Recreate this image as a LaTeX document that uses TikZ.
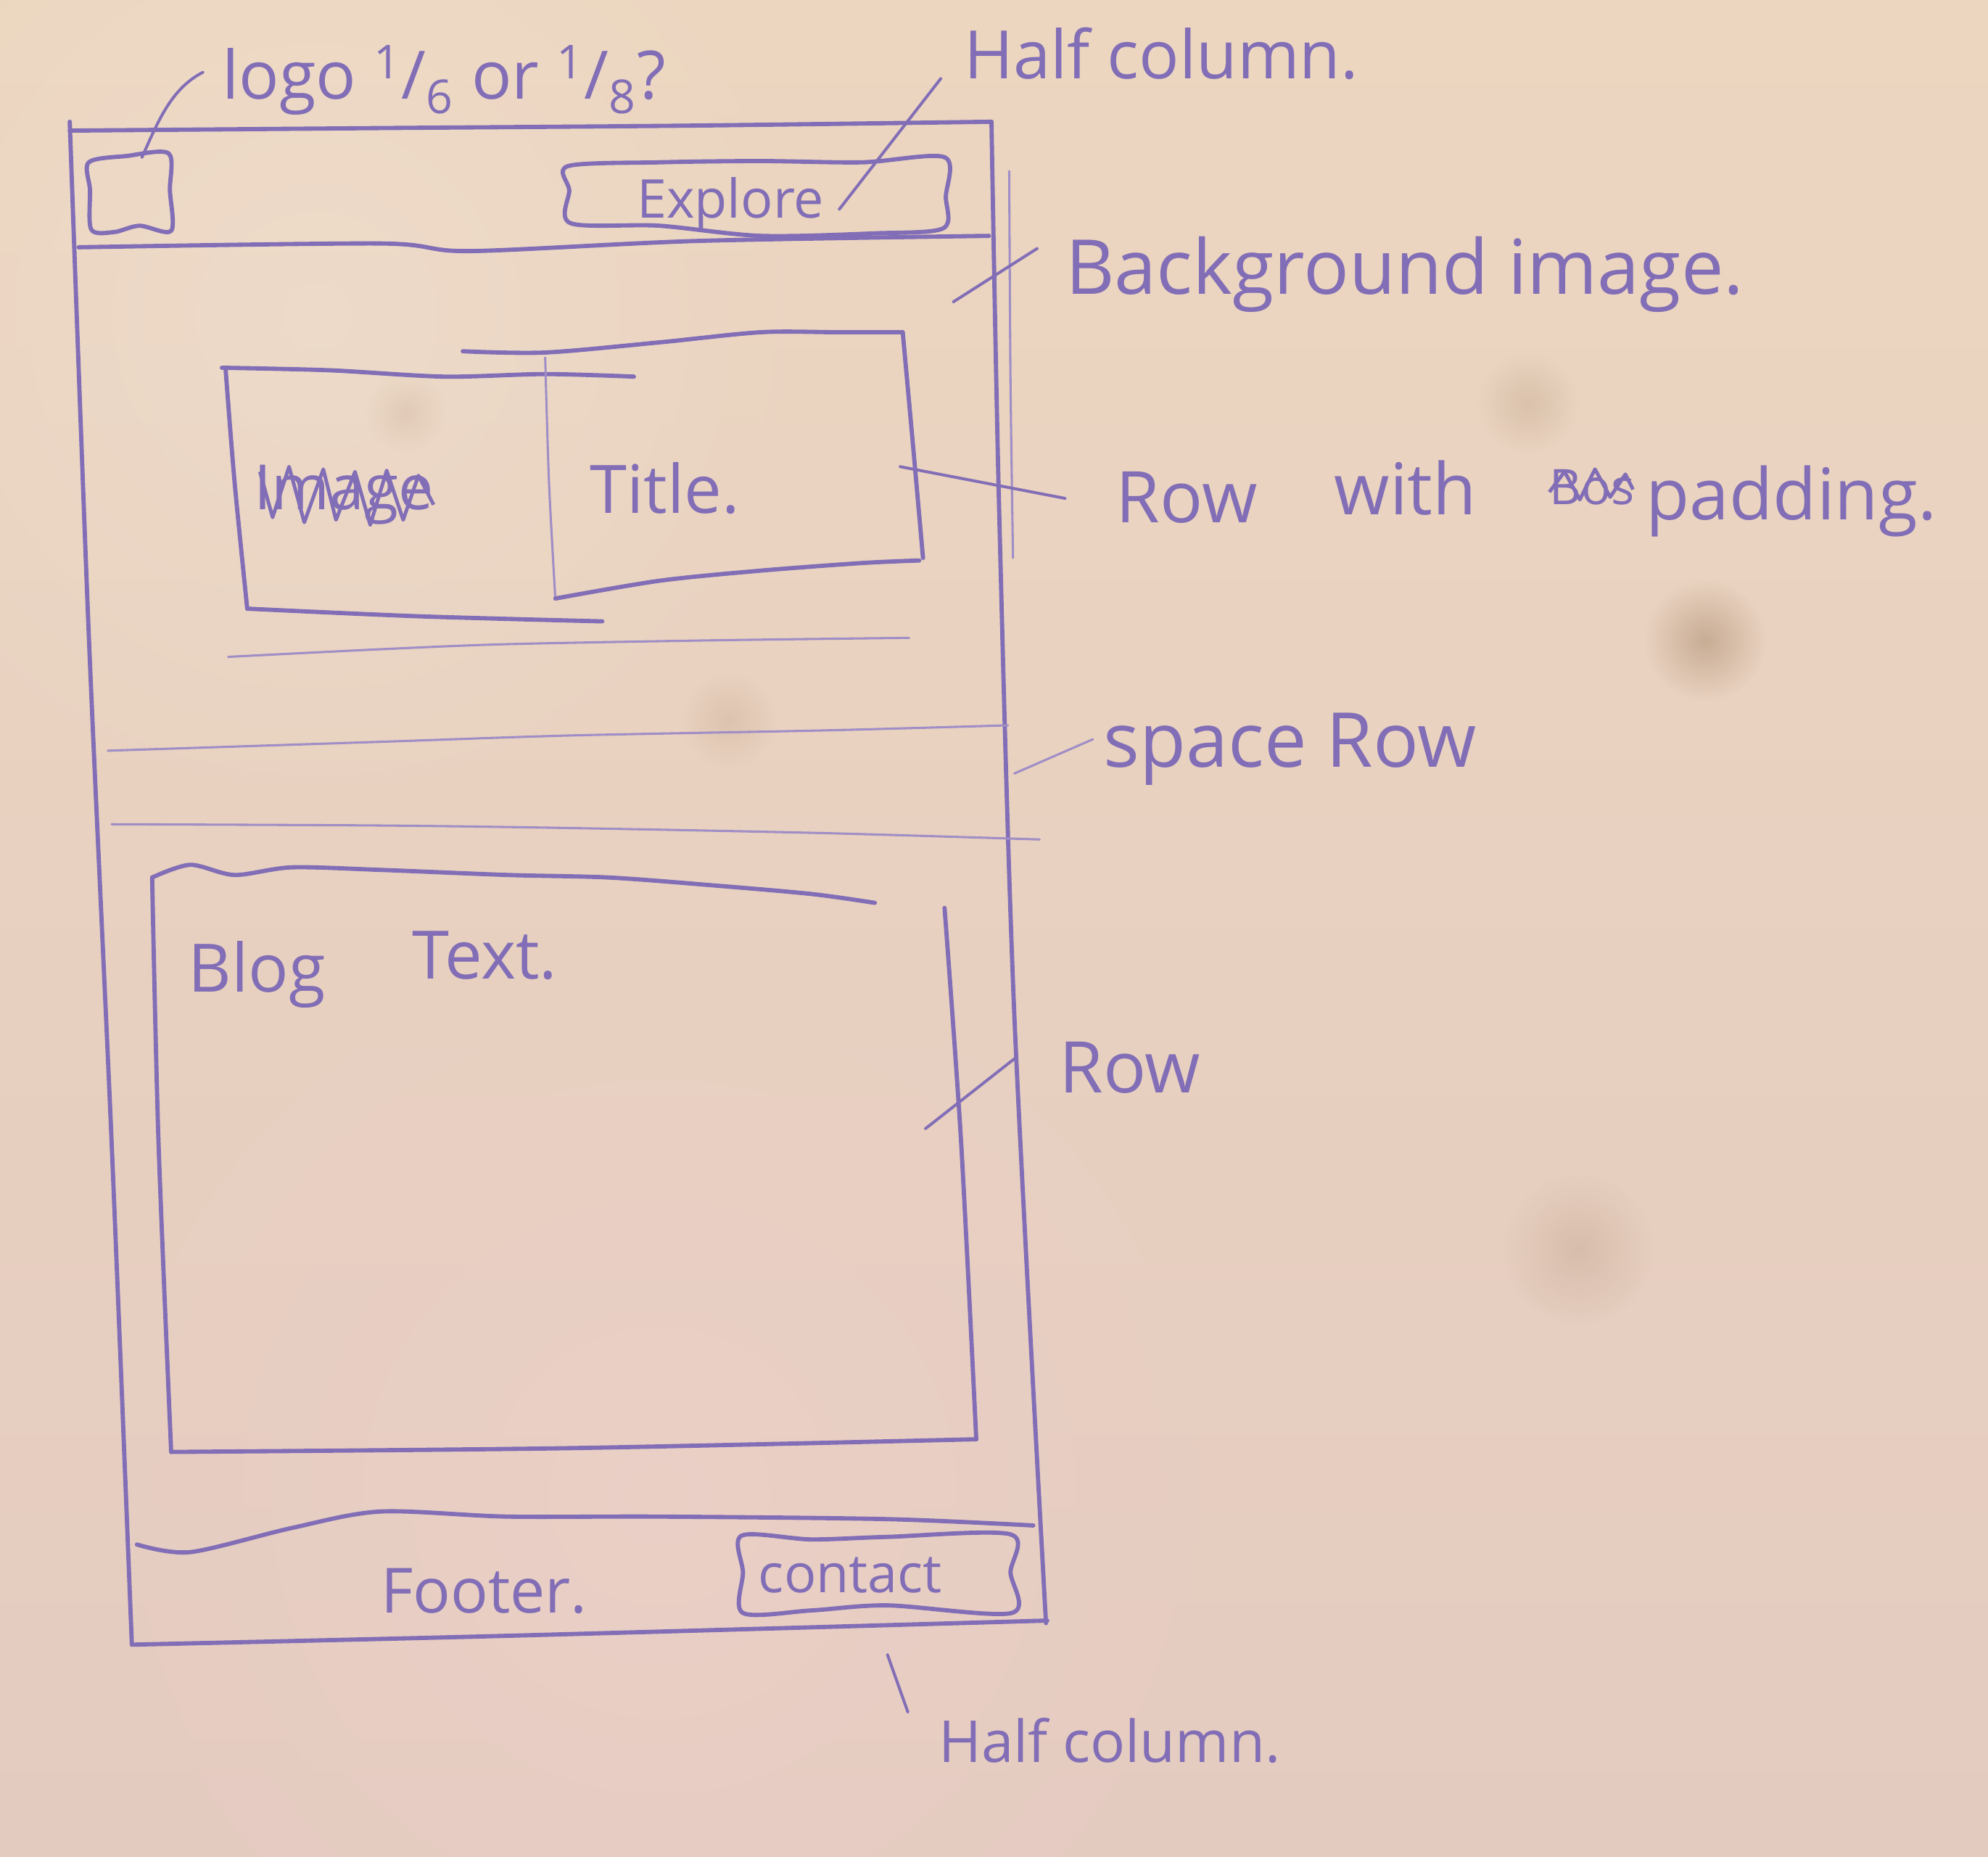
\documentclass[tikz,border=0pt]{standalone}
\usepackage{fontspec}
\setmainfont{Open Sans}
\usetikzlibrary{fadings}
\definecolor{papertop}{RGB}{236,214,192}
\definecolor{paperlow}{RGB}{228,203,192}
\definecolor{paperpink}{RGB}{237,209,201}
\definecolor{pen}{RGB}{130,110,182}
\definecolor{penlight}{RGB}{160,142,198}
\definecolor{stain}{RGB}{160,128,96}
\tikzfading[name=softspot, inner color=transparent!0, outer color=transparent!100]
\begin{document}
\begin{tikzpicture}[x=0.02cm,y=-0.02cm,
  stroke/.style={draw=pen, line width=1.9pt, line cap=round, line join=round},
  thinstroke/.style={draw=penlight, line width=1pt, line cap=round, line join=round},
  leader/.style={draw=pen, line width=1.3pt, line cap=round},
  hand/.style={text=pen, inner sep=0pt, anchor=base west},
  scribble/.style={draw=pen, line width=1.6pt, line join=round},
]
% paper
\useasboundingbox (0,0) rectangle (1568,1464);
\shade[top color=papertop, bottom color=paperlow] (0,0) rectangle (1568,1464);
\fill[paperpink, opacity=0.6, path fading=softspot] (520,1180) circle (520);
\fill[white, opacity=0.15, path fading=softspot] (250,250) circle (420);
% stains
\fill[stain, opacity=0.45, path fading=softspot] (1345,505) circle (48);
\fill[stain, opacity=0.22, path fading=softspot] (1205,318) circle (40);
\fill[stain, opacity=0.22, path fading=softspot] (1245,985) circle (60);
\fill[stain, opacity=0.18, path fading=softspot] (575,568) circle (38);
\fill[stain, opacity=0.15, path fading=softspot] (320,325) circle (32);

% ---- phone frame ----
\draw[stroke] plot[smooth] coordinates {(55,103) (300,101) (550,99) (782,96)};
\draw[stroke] plot[smooth] coordinates {(782,96) (788,400) (800,800) (825,1280)};
\draw[thinstroke] plot[smooth] coordinates {(796,135) (797,300) (799,440)};
\draw[stroke] plot[smooth] coordinates {(55,96) (70,500) (88,900) (104,1297)};
\draw[stroke] plot[smooth] coordinates {(104,1297) (400,1290) (826,1278)};

% header
\draw[stroke] plot[smooth] coordinates {(62,195) (300,192) (370,198) (550,190) (780,186)};
\draw[stroke] plot[smooth cycle] coordinates {(70,128) (100,123) (133,121) (134,150) (135,182) (110,178) (90,183) (72,181) (71,150)};
\draw[stroke] plot[smooth cycle] coordinates {(448,131) (520,128) (600,127) (680,128) (745,124) (746,155) (744,180) (690,184) (600,186) (520,178) (450,176) (449,150)};
\node[hand, font=\fontsize{24}{28}\selectfont] (explore) at (502,172) {Explore};

% row with the image and the title
\draw[stroke] plot[smooth] coordinates {(175,290) (260,292) (350,297) (430,295) (500,297)};
\draw[stroke] plot[smooth] coordinates {(178,292) (185,380) (195,480)};
\draw[stroke] plot[smooth] coordinates {(195,480) (330,486) (475,490)};
\draw[stroke] plot[smooth] coordinates {(365,277) (430,278) (520,270) (600,262) (660,262) (712,262)};
\draw[thinstroke] plot[smooth] coordinates {(430,282) (433,380) (438,472)};
\draw[stroke] plot[smooth] coordinates {(712,262) (720,350) (728,440)};
\draw[stroke] plot[smooth] coordinates {(438,472) (520,458) (600,450) (680,444) (725,442)};
\node[hand, font=\fontsize{28}{32}\selectfont] (image) at (200,402) {Image};
\draw[scribble] (205,372) -- (215,408) -- (228,368) -- (240,412) -- (255,370) -- (265,410) -- (280,372) -- (292,414) -- (305,371) -- (318,410) -- (330,375) -- (342,398);
\node[hand, font=\fontsize{30}{34}\selectfont] (title) at (465,405) {Title.};
\draw[thinstroke] plot[smooth] coordinates {(180,518) (300,512) (400,508) (560,505) (717,503)};

% spacer row
\draw[thinstroke] plot[smooth] coordinates {(85,592) (300,585) (450,580) (650,576) (795,572)};
\draw[thinstroke] plot[smooth] coordinates {(88,650) (300,651) (450,653) (650,657) (820,662)};

% blog text
\draw[stroke] plot[smooth] coordinates {(120,692) (150,682) (185,690) (230,684) (300,686) (400,690) (480,692) (560,698) (640,705) (690,712)};
\draw[stroke] plot[smooth] coordinates {(120,692) (125,900) (135,1145)};
\draw[stroke] plot[smooth] coordinates {(135,1145) (450,1142) (770,1135)};
\draw[stroke] plot[smooth] coordinates {(745,716) (758,900) (770,1135)};
\node[hand, font=\fontsize{30}{34}\selectfont] (blog) at (148,782) {Blog};
\node[hand, font=\fontsize{30}{34}\selectfont] (text) at (325,772) {Text.};

% footer
\draw[stroke] plot[smooth] coordinates {(108,1218) (150,1224) (230,1205) (300,1192) (400,1196) (520,1196) (700,1198) (815,1203)};
\draw[stroke] plot[smooth cycle] coordinates {(585,1211) (640,1214) (700,1212) (797,1210) (797,1240) (798,1272) (700,1266) (640,1270) (586,1272) (586,1240)};
\node[hand, font=\fontsize{28}{32}\selectfont] (footer) at (300,1272) {Footer.};
\node[hand, font=\fontsize{24}{28}\selectfont] (contact) at (598,1256) {contact};

% ---- notes ----
\node[hand, font=\fontsize{30}{34}\selectfont] (logonote) at (175,78) {logo \textsuperscript{1}/\textsubscript{6} or \textsuperscript{1}/\textsubscript{8}?};
\node[hand, font=\fontsize{30}{34}\selectfont] (halfcol) at (760,62) {Half column.};
\node[hand, font=\fontsize{34}{40}\selectfont] (bgnote) at (840,232) {Background image.};
\node[hand, font=\fontsize{32}{38}\selectfont] (rownote) at (880,412) {Row};
\node[hand, font=\fontsize{32}{38}\selectfont] (withnote) at (1052,406) {with};
\node[hand, font=\fontsize{22}{26}\selectfont] (struck) at (1222,398) {Bos};
\draw[scribble] (1222,388) -- (1234,372) -- (1246,394) -- (1258,370) -- (1270,392) -- (1282,374) -- (1288,386);
\node[hand, font=\fontsize{32}{38}\selectfont] (padnote) at (1298,410) {padding.};
\node[hand, font=\fontsize{34}{40}\selectfont] (spacenote) at (870,605) {space Row};
\node[hand, font=\fontsize{32}{38}\selectfont] (rowtwo) at (835,862) {Row};
\node[hand, font=\fontsize{26}{30}\selectfont] (halfcolb) at (740,1390) {Half column.};

% leaders
\coordinate (logoA) at (112,124);
\coordinate (logoB) at (160,57);
\coordinate (halfA) at (662,165);
\coordinate (halfB) at (742,62);
\coordinate (bgA) at (752,238);
\coordinate (bgB) at (818,196);
\coordinate (padA) at (710,368);
\coordinate (padB) at (840,393);
\coordinate (spaceA) at (800,610);
\coordinate (spaceB) at (862,583);
\coordinate (rowA) at (730,890);
\coordinate (rowB) at (800,835);
\coordinate (contA) at (700,1305);
\coordinate (contB) at (716,1350);
\draw[leader] (logoA) .. controls (125,95) and (135,70) .. (logoB);
\draw[leader] (halfA) -- (halfB);
\draw[leader] (bgA) -- (bgB);
\draw[leader] (padA) -- (padB);
\draw[thinstroke] (spaceA) -- (spaceB);
\draw[leader] (rowA) -- (rowB);
\draw[leader] (contA) -- (contB);
\end{tikzpicture}
\end{document}
